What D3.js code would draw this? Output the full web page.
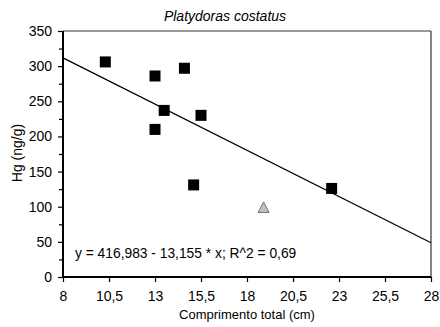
<!DOCTYPE html>
<html><head><meta charset="utf-8">
<script src="https://cdn.jsdelivr.net/npm/d3@7"></script>
<style>body{margin:0;background:#fff;} text{font-family:"Liberation Sans",Arial,sans-serif;fill:#000;}</style>
</head><body><svg id="c" width="440" height="327"></svg>
<script>
const title = "Platydoras costatus";
const xLabel = "Comprimento total (cm)";
const yLabel = "Hg (ng/g)";
const equation = "y = 416,983 - 13,155 * x; R^2 = 0,69";
const xTicks = [8, 10.5, 13, 15.5, 18, 20.5, 23, 25.5, 28];
const yTicks = [0, 50, 100, 150, 200, 250, 300, 350];
const yMinorTicks = [25, 75, 125, 175, 225, 275, 325];
const squareX = [10.3, 13.0, 14.6, 13.5, 13.0, 15.5, 15.1, 22.6];
const squareY = [306, 286, 297, 237, 210, 230, 131, 126];
const triangleX = [18.9];
const triangleY = [99];
const fitIntercept = 416.983;
const fitSlope = -13.155;
const fitRange = [8, 28];

const svg = d3.select("#c");
const L = 63, R = 431, T = 31, B = 277;
const x = d3.scaleLinear().domain([8, 28]).range([L, R]);
const y = d3.scaleLinear().domain([0, 350]).range([B, T]);
const fmt = d => String(d).replace(".", ",");

// frame top/right
svg.append("line").attr("x1", L).attr("x2", R).attr("y1", T).attr("y2", T).attr("stroke", "#333").attr("stroke-width", 1.2);
svg.append("line").attr("x1", R).attr("x2", R).attr("y1", T).attr("y2", B).attr("stroke", "#333").attr("stroke-width", 1.2);

// fit line
svg.append("line")
  .attr("x1", x(fitRange[0])).attr("y1", y(fitIntercept + fitSlope * fitRange[0]))
  .attr("x2", x(fitRange[1])).attr("y2", y(fitIntercept + fitSlope * fitRange[1]))
  .attr("stroke", "#000").attr("stroke-width", 1.2);

// axes
const yAxis = d3.axisLeft(y).tickValues(yTicks).tickFormat(fmt).tickSize(5).tickPadding(6);
const gy = svg.append("g").attr("transform", `translate(${L},0)`).call(yAxis);
const yMinor = d3.axisLeft(y).tickValues(yMinorTicks).tickFormat("").tickSize(4);
const gym = svg.append("g").attr("transform", `translate(${L},0)`).call(yMinor);
gym.select(".domain").remove();
const xAxis = d3.axisBottom(x).tickValues(xTicks).tickFormat(fmt).tickSize(5).tickPadding(9);
const gx = svg.append("g").attr("transform", `translate(0,${B})`).call(xAxis);
[gy, gym, gx].forEach(g => {
  g.selectAll(".domain").attr("stroke", "#000").attr("stroke-width", 2);
  g.selectAll(".tick line").attr("stroke", "#000").attr("stroke-width", 1.2);
  g.selectAll("text").style("font-family", '"Liberation Sans",Arial,sans-serif').style("font-size", "14px").attr("fill", "#000");
});
gy.select(".domain").attr("d", `M0,${T}V${B + 1}`);
gx.select(".domain").attr("d", `M${L - 1},0H${R}`);

// points
const s = 11;
svg.append("g").selectAll("rect").data(squareX.map((v, i) => [v, squareY[i]])).join("rect")
  .attr("x", d => x(d[0]) - s / 2).attr("y", d => y(d[1]) - s / 2)
  .attr("width", s).attr("height", s).attr("fill", "#000");
svg.append("g").selectAll("path").data(triangleX.map((v, i) => [v, triangleY[i]])).join("path")
  .attr("transform", d => `translate(${x(d[0])},${y(d[1])})`)
  .attr("d", "M0,-5.5L5.5,5L-5.5,5Z")
  .attr("fill", "#c0c0c0").attr("stroke", "#555").attr("stroke-width", 0.8);

// texts
svg.append("text").attr("x", 75).attr("y", 258).style("font-size", "13.8px").text(equation);
svg.append("text").attr("x", 225).attr("y", 21).attr("text-anchor", "middle")
  .style("font-size", "14px").style("font-style", "italic").text(title);
svg.append("text").attr("x", 247).attr("y", 319).attr("text-anchor", "middle")
  .style("font-size", "13px").text(xLabel);
svg.append("text").attr("transform", "translate(22,153) rotate(-90)").attr("text-anchor", "middle")
  .style("font-size", "14px").text(yLabel);
</script></body></html>
